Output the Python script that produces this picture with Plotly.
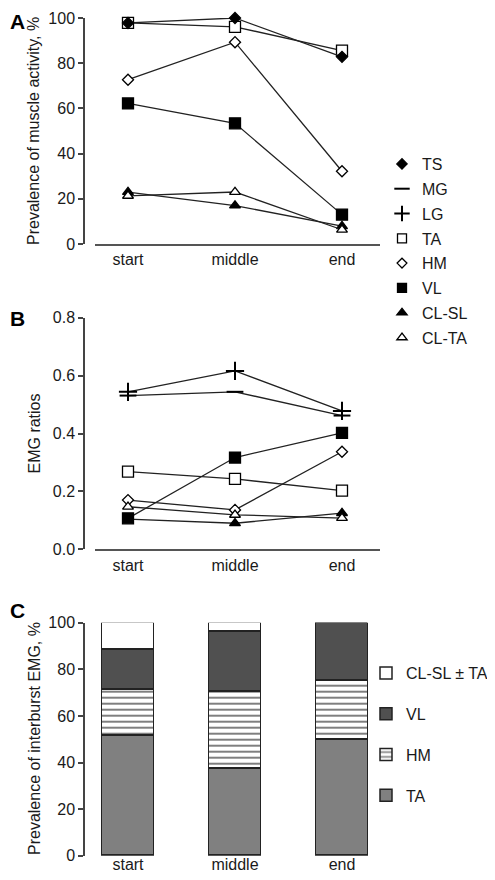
import plotly.graph_objects as go

# ---------------- data ----------------
categories = ["start", "middle", "end"]
cat_x = [0, 1, 2]

# Panel A: prevalence of muscle activity, %
A_TA = [97.8, 96.1, 85.6]
A_TS = [97.8, 100.0, 82.8]
A_HM = [72.7, 89.3, 32.2]
A_VL = [62.2, 53.4, 13.0]
A_CLSL = [23.0, 17.0, 7.9]
A_CLTA = [21.3, 23.0, 6.3]

# Panel B: EMG ratios
B_MG = [0.531, 0.544, 0.462]
B_LG = [0.544, 0.616, 0.478]
B_TA = [0.268, 0.243, 0.203]
B_HM = [0.170, 0.136, 0.337]
B_CLSL = [0.104, 0.090, 0.125]
B_VL = [0.107, 0.317, 0.402]
B_CLTA = [0.147, 0.119, 0.108]

# Panel C: prevalence of interburst EMG, % (stacked)
C_TA = [51.4, 37.2, 49.8]
C_HM = [20.0, 33.2, 25.3]
C_VL = [17.2, 25.9, 24.9]
C_CLSL = [11.4, 3.7, 0.0]

yticksA = [0, 20, 40, 60, 80, 100]
yticksB = [0.0, 0.2, 0.4, 0.6, 0.8]
yticksC = [0, 20, 40, 60, 80, 100]

FONT = "Liberation Sans, Arial, Helvetica, sans-serif"
INK = "#1a1a1a"
LINE = "#222222"

# page is 495x880; the html body adds an 8px margin, so the figure is 8px smaller
# and all page positions are shifted by OFF
PAGE_W, PAGE_H = 495, 880
OFF = 8
W, H = PAGE_W - OFF, PAGE_H - OFF


def px(xp):
    return (xp - OFF) / W


def py(yp):
    return 1 - (yp - OFF) / H


# marker styles
sty = {
    "TS": dict(symbol="diamond", color="black", size=8.5),
    "MG": dict(symbol="line-ew-open", color="black", size=12),
    "LG": dict(symbol="cross-thin-open", color="black", size=13),
    "TA": dict(symbol="square", color="white", size=11),
    "HM": dict(symbol="diamond", color="white", size=8.5),
    "VL": dict(symbol="square", color="black", size=11),
    "CL-SL": dict(symbol="triangle-up", color="black", size=9.5),
    "CL-TA": dict(symbol="triangle-up", color="white", size=9.5),
}


def marker(name, size=None):
    s = sty[name]
    return dict(symbol=s["symbol"], color=s["color"], size=size or s["size"],
                line=dict(color="black", width=2 if "open" in s["symbol"] else 1.3))


fig = go.Figure()


def add_line(name, ys, xa, ya):
    fig.add_trace(go.Scatter(
        x=cat_x, y=ys, mode="lines+markers", name=name, showlegend=False,
        line=dict(color=LINE, width=1.3), marker=marker(name),
        cliponaxis=False, xaxis=xa, yaxis=ya))


# Panel A
for nm, ys in [("TA", A_TA), ("TS", A_TS), ("HM", A_HM), ("VL", A_VL),
               ("CL-SL", A_CLSL), ("CL-TA", A_CLTA)]:
    add_line(nm, ys, "x", "y")

# Panel B
for nm, ys in [("MG", B_MG), ("LG", B_LG), ("TA", B_TA), ("HM", B_HM),
               ("CL-SL", B_CLSL), ("VL", B_VL), ("CL-TA", B_CLTA)]:
    add_line(nm, ys, "x2", "y2")

# legend entries (markers only)
leg_sizes = {"TS": 8, "MG": 11, "LG": 11, "TA": 9, "HM": 7.5, "VL": 9, "CL-SL": 9, "CL-TA": 9}
for i, nm in enumerate(["TS", "MG", "LG", "TA", "HM", "VL", "CL-SL", "CL-TA"]):
    fig.add_trace(go.Scatter(
        x=[None], y=[None], mode="markers", name=nm, showlegend=True,
        legendgroup="a%d" % i, legendrank=i + 1,
        marker=marker(nm, leg_sizes[nm]), legend="legend", xaxis="x", yaxis="y"))

# Panel C stacked bars
bar_line = dict(color="#222222", width=1.5)
bars = [
    ("TA", C_TA, dict(color="#808080", line=bar_line), 4),
    ("HM", C_HM, dict(color="white", line=bar_line,
                      pattern=dict(shape="-", fgcolor="#000000", bgcolor="white",
                                   size=6, solidity=0.34)), 3),
    ("VL", C_VL, dict(color="#505050", line=bar_line), 2),
    ("CL-SL ± TA", C_CLSL, dict(color="white", line=bar_line), 1),
]
for nm, ys, mk, rank in bars:
    fig.add_trace(go.Bar(x=cat_x, y=ys, name=nm, width=0.48, marker=mk,
                         legend="legend2", legendgroup="g%d" % rank, legendrank=rank,
                         xaxis="x3", yaxis="y3"))

# ---------------- layout ----------------
Y_AXIS_PX = 84
XLINE_L_PX = 95
XR_PX = 380
px_per_cat = 107.0
x0_px = 128.0
xrange_line = [(XLINE_L_PX - x0_px) / px_per_cat, (XR_PX - x0_px) / px_per_cat]
xrange_c = [(Y_AXIS_PX - x0_px) / px_per_cat, (XR_PX - x0_px) / px_per_cat]


def dom(top_px, bot_px):
    return [py(bot_px), py(top_px)]


tickfont = dict(family=FONT, size=16, color=INK)
common_x = dict(tickmode="array", tickvals=cat_x, ticktext=categories, ticks="",
                showgrid=False, zeroline=False, tickfont=tickfont, fixedrange=True)
common_y = dict(showgrid=False, zeroline=False, ticks="outside", ticklen=5, tickwidth=1.5,
                tickcolor="#444", showline=True, linecolor="#444", linewidth=1.5,
                tickfont=tickfont, anchor="free", position=px(Y_AXIS_PX))

fig.update_layout(
    width=W, height=H, margin=dict(l=0, r=0, t=0, b=0, autoexpand=False),
    paper_bgcolor="white", plot_bgcolor="white",
    font=dict(family=FONT, size=16, color=INK),
    barmode="stack", bargap=0,
    xaxis=dict(domain=[px(XLINE_L_PX), px(XR_PX)], range=xrange_line, anchor="y",
               showline=True, linecolor="#555", linewidth=2, **common_x),
    yaxis=dict(domain=dom(18, 244), range=[0, 100], tickvals=yticksA, **common_y),
    xaxis2=dict(domain=[px(XLINE_L_PX), px(XR_PX)], range=xrange_line, anchor="y2",
                showline=True, linecolor="#555", linewidth=2, **common_x),
    yaxis2=dict(domain=dom(317.7, 549.3), range=[0, 0.8], tickvals=yticksB,
                tickformat=".1f", **common_y),
    xaxis3=dict(domain=[px(Y_AXIS_PX), px(XR_PX)], range=xrange_c, anchor="y3",
                showline=False, ticklabelstandoff=-3, **common_x),
    yaxis3=dict(domain=dom(622.7, 855.7), range=[0, 100], tickvals=yticksC, **common_y),
    legend=dict(x=px(382), y=py(147), xanchor="left", yanchor="top",
                font=dict(family=FONT, size=16, color=INK), bgcolor="rgba(0,0,0,0)",
                traceorder="grouped", tracegroupgap=1, itemclick=False),
    legend2=dict(x=px(366), y=py(656), xanchor="left", yanchor="top",
                 font=dict(family=FONT, size=16, color=INK), bgcolor="rgba(0,0,0,0)",
                 traceorder="grouped", tracegroupgap=17, itemclick=False),
)

# axis titles and panel letters
titles = [
    ("Prevalence of muscle activity, %", 131),
    ("EMG ratios", 433.5),
    ("Prevalence of interburst EMG, %", 739),
]
for txt, yc in titles:
    fig.add_annotation(text=txt, x=px(34), y=py(yc), xref="paper", yref="paper",
                       textangle=-90, showarrow=False, xanchor="center", yanchor="middle",
                       font=dict(family=FONT, size=16, color=INK))

# panel letters (kept inside the figure, which starts at page x=8, y=8)
fig.add_annotation(text="<b>A</b>", x=0, y=1, xref="paper", yref="paper",
                   showarrow=False, xanchor="left", yanchor="top",
                   font=dict(family=FONT, size=21, color="black"))
for letter, yc in [("B", 318.5), ("C", 610.5)]:
    fig.add_annotation(text="<b>%s</b>" % letter, x=0, y=py(yc), xref="paper",
                       yref="paper", showarrow=False, xanchor="left", yanchor="middle",
                       font=dict(family=FONT, size=21, color="black"))

fig.write_html("out.html")
